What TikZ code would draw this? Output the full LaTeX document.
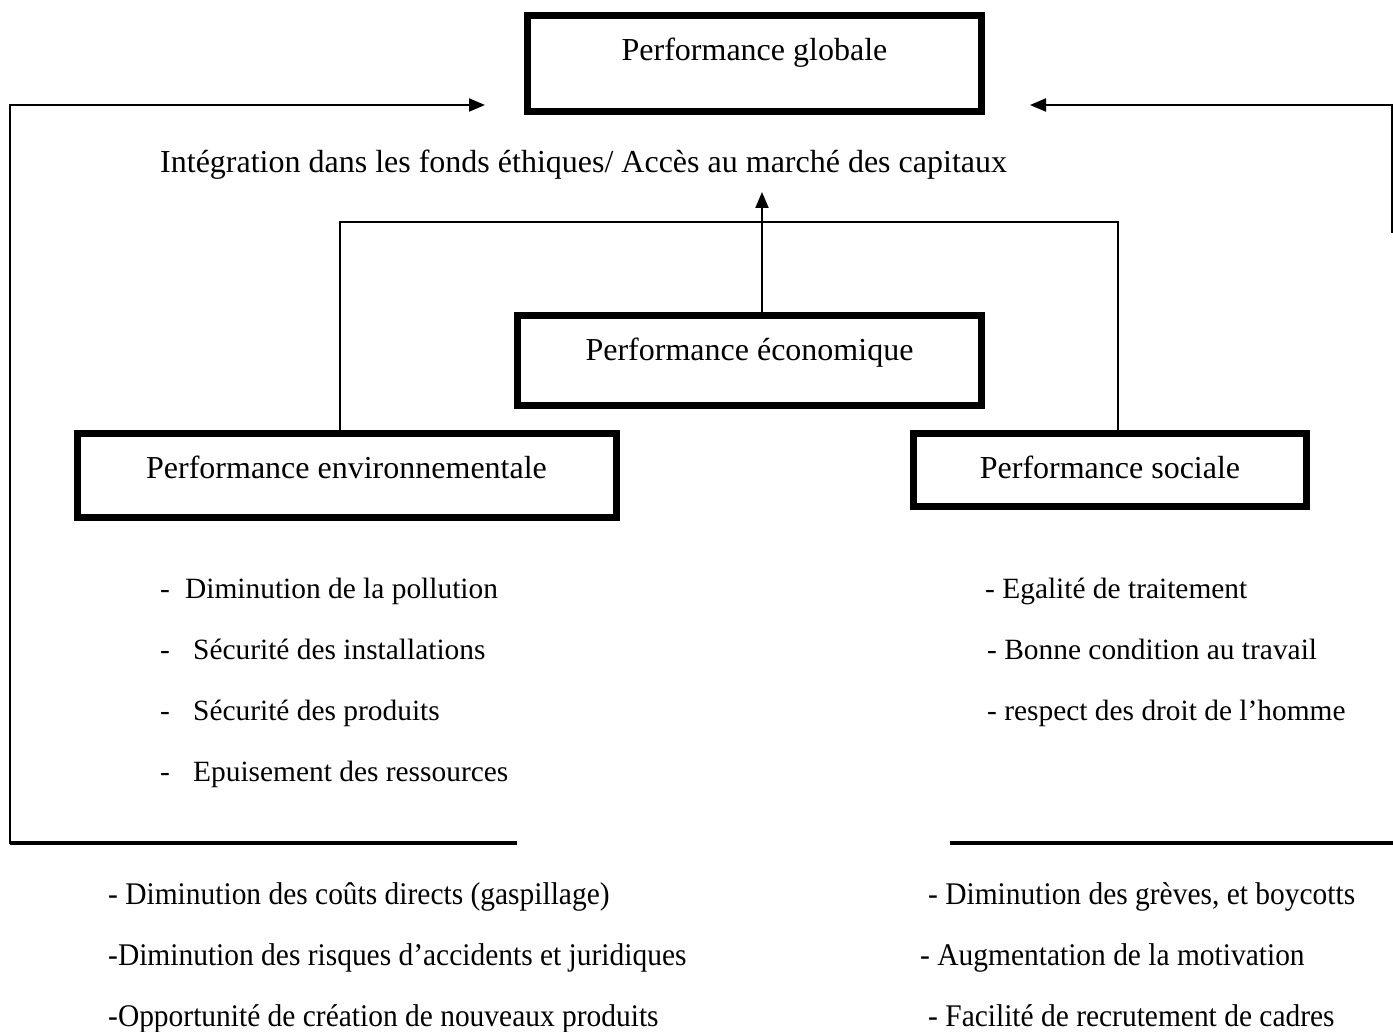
\documentclass[tikz,border=0pt]{standalone}
\usepackage{fontspec}
\setmainfont{Liberation Serif}
\newfontfamily\condfont[FakeStretch=0.935]{Liberation Serif}
\usetikzlibrary{arrows.meta}
\begin{document}
\begin{tikzpicture}[x=1pt,y=-1pt,
  txt/.style={font=\fontsize{32}{36}\selectfont, inner sep=0pt, anchor=base west},
  lst/.style={font=\fontsize{29.4}{34}\selectfont, inner sep=0pt, anchor=base west},
  blst/.style={font=\condfont\fontsize{31.5}{36}\selectfont, inner sep=0pt, anchor=base west},
  box/.style={draw, line width=7pt, inner xsep=0pt, inner ysep=0pt, anchor=base,
    font=\fontsize{32}{36}\selectfont},
  conn/.style={line width=2pt},
  arr/.style={line width=2pt, -{Triangle[length=16pt,width=13pt]}},
  heavy/.style={line width=3.2pt}]
\useasboundingbox (0,0) rectangle (1393,1032);
% boxes
\node[box, minimum width=454pt, text height=45pt, text depth=51pt] (glob) at (754.5,61) {Performance globale};
\node[box, minimum width=464pt, text height=45pt, text depth=44.5pt] (eco) at (749.5,361) {Performance économique};
\node[box, minimum width=539pt, text height=45pt, text depth=39pt] (env) at (346.5,478) {Performance environnementale};
\node[box, minimum width=393pt, text height=44.5pt, text depth=28.5pt] (soc) at (1110,478) {Performance sociale};
% title text
\node[txt] (integ) at (160,173) {Intégration dans les fonds éthiques/ Accès au marché des capitaux};
% coordinates
\coordinate (tl) at (340,222);
\coordinate (tr) at (1118,222);
\coordinate (ai) at (762,192);
\coordinate (bl) at (517,843);
\coordinate (lc) at (10,105);
\coordinate (gl) at (485,105);
\coordinate (rb) at (1392,233);
\coordinate (rc) at (1392,105);
\coordinate (gr) at (1030,105);
\coordinate (br1) at (950,843);
\coordinate (br2) at (1393,843);
% connectors
\draw[conn] (env.north -| tl) -- (tl) -- (tr) -- (soc.north -| tr);
\draw[arr] (eco.north -| ai) -- (ai);
\draw[arr] (bl) -| (lc) -- (gl);
\draw[heavy] (bl) -- (bl -| lc);
\draw[arr] (rb) -- (rc) -- (gr);
\draw[heavy] (br1) -- (br2);
% left list
\node[lst] (e1) at (160,598) {\makebox[25pt][l]{-}Diminution de la pollution};
\node[lst] (e2) at (160,659) {\makebox[33pt][l]{-}Sécurité des installations};
\node[lst] (e3) at (160,720) {\makebox[33pt][l]{-}Sécurité des produits};
\node[lst] (e4) at (160,781) {\makebox[33pt][l]{-}Epuisement des ressources};
% right list
\node[lst] (s1) at (985,598) {- Egalité de traitement};
\node[lst] (s2) at (987,659) {- Bonne condition au travail};
\node[lst] (s3) at (987,720) {- respect des droit de l’homme};
% bottom left
\node[blst] (b1) at (108,904) {- Diminution des coûts directs (gaspillage)};
\node[blst] (b2) at (108,965) {-Diminution des risques d’accidents et juridiques};
\node[blst] (b3) at (108,1026) {-Opportunité de création de nouveaux produits};
% bottom right
\node[blst] (c1) at (928,904) {- Diminution des grèves, et boycotts};
\node[blst] (c2) at (920,965) {- Augmentation de la motivation};
\node[blst] (c3) at (928,1026) {- Facilité de recrutement de cadres};
\end{tikzpicture}
\end{document}
